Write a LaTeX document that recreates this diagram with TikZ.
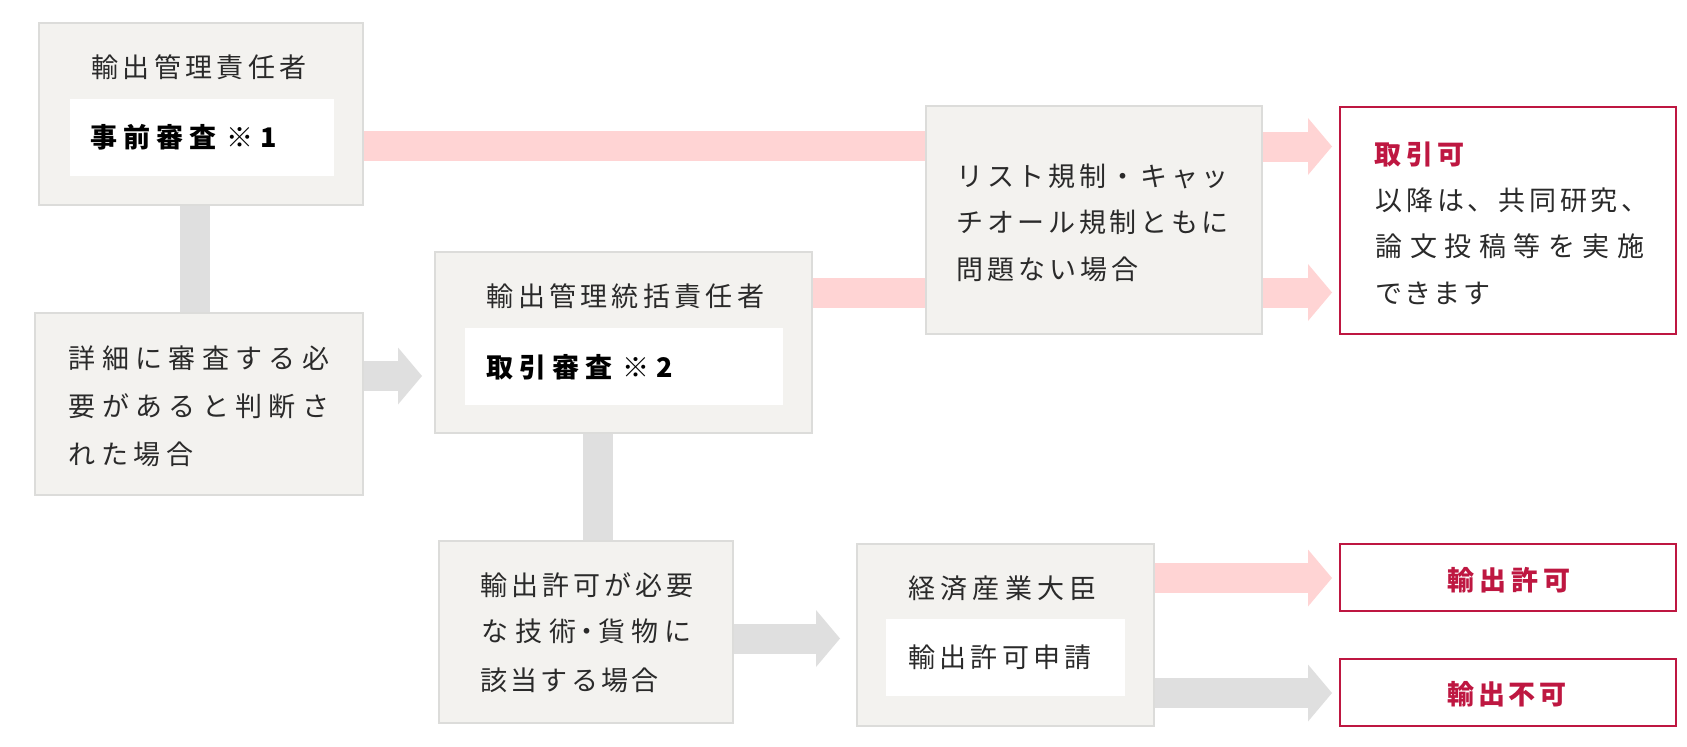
\documentclass[tikz,border=0pt]{standalone}
\usepackage{fontspec}
\setmainfont{Noto Sans CJK JP}
\usetikzlibrary{arrows.meta,backgrounds}
\definecolor{boxfill}{HTML}{F3F2EF}
\definecolor{boxline}{HTML}{DCDCDA}
\definecolor{pinkc}{HTML}{FFD4D4}
\definecolor{greyc}{HTML}{DFDFDF}
\definecolor{redc}{HTML}{BE1741}
\definecolor{txtc}{HTML}{2A2A2A}
\makeatletter
\newcommand\jspread[2]{\hbox to #1{\let\jsep\relax\@tfor\jc:=#2\do{\jsep\jc\let\jsep\hfil}}}
\makeatother
\tikzset{
  box/.style={rectangle, draw=boxline, line width=2pt, fill=boxfill, inner sep=0pt, outer sep=0pt},
  inbox/.style={rectangle, fill=white, inner sep=0pt, outer sep=0pt},
  rbox/.style={rectangle, draw=redc, line width=2pt, fill=white, inner sep=0pt, outer sep=0pt},
  txt/.style={anchor=base west, inner sep=0pt, outer sep=0pt, text=txtc, font=\fontsize{27}{30}\selectfont},
  btxt/.style={txt, text=black, font=\fontsize{27}{30}\selectfont\bfseries},
  rtxt/.style={txt, text=redc, font=\fontsize{27}{30}\selectfont\bfseries},
  pinkbar/.style={draw=pinkc, line width=30pt, line cap=butt},
  greybar/.style={draw=greyc, line width=30pt, line cap=butt},
  pinkarrow/.style={pinkbar, -{Triangle[width=57pt,length=24pt,line width=0pt,fill=pinkc]}},
  greyarrow/.style={greybar, -{Triangle[width=57pt,length=24pt,line width=0pt,fill=greyc]}},
}
\begin{document}
\begin{tikzpicture}[x=1pt,y=-1pt]
\useasboundingbox (0,0) rectangle (1687,747);

% boxes
\node[box, minimum width=324pt, minimum height=182pt] (A) at (201,114) {};
\node[inbox, minimum width=264pt, minimum height=77pt] (Ai) at (202,137.5) {};
\node[box, minimum width=328pt, minimum height=182pt] (B) at (199,404) {};
\node[box, minimum width=377pt, minimum height=181pt] (C) at (623.5,342.5) {};
\node[inbox, minimum width=318pt, minimum height=77pt] (Ci) at (624,366.5) {};
\node[box, minimum width=336pt, minimum height=228pt] (D) at (1094,220) {};
\node[rbox, minimum width=336pt, minimum height=227pt] (E) at (1508,220.5) {};
\node[box, minimum width=294pt, minimum height=182pt] (F) at (586,632) {};
\node[box, minimum width=297pt, minimum height=182pt] (G) at (1005.5,635) {};
\node[inbox, minimum width=239pt, minimum height=77pt] (Gi) at (1005.5,657.5) {};
\node[rbox, minimum width=336pt, minimum height=67pt] (H1) at (1508,577.5) {};
\node[rbox, minimum width=336pt, minimum height=67pt] (H2) at (1508,692.5) {};

% texts
\node[txt] (tA1) at (91.7,77.5) {\jspread{214.6pt}{輸出管理責任者}};
\node[btxt] (tA2) at (90.7,147) {\jspread{125.6pt}{事前審査}\kern10pt ※\kern7pt 1};
\node[txt] (tB1) at (68.7,368) {\jspread{260.6pt}{詳細に審査する必}};
\node[txt] (tB2) at (68.7,416) {\jspread{260.6pt}{要があると判断さ}};
\node[txt] (tB3) at (68.7,464) {\jspread{124.6pt}{れた場合}};
\node[txt] (tC1) at (486.7,306) {\jspread{277.6pt}{輸出管理統括責任者}};
\node[btxt] (tC2) at (486.7,377) {\jspread{125.6pt}{取引審査}\kern10pt ※\kern7pt 2};
\node[txt] (tD1) at (956.7,186) {\jspread{272pt}{リスト規制・キャッ}};
\node[txt] (tD2) at (956.7,232) {\jspread{272pt}{チオール規制ともに}};
\node[txt] (tD3) at (956.7,279) {\jspread{181.6pt}{問題ない場合}};
\node[rtxt] (tE1) at (1374.7,164) {\jspread{89.6pt}{取引可}};
\node[txt] (tE2) at (1375.7,210) {\jspread{273pt}{以降は、共同研究、}};
\node[txt] (tE3) at (1375.7,256) {\jspread{268.6pt}{論文投稿等を実施}};
\node[txt] (tE4) at (1375.7,303) {\jspread{114.3pt}{できます}};
\node[txt] (tF1) at (480.7,595) {\jspread{212.5pt}{輸出許可が必要}};
\node[txt] (tF2) at (481.7,641) {\jspread{94.6pt}{な技術}\makebox[20.4pt]{・}\kern2pt\jspread{93.3pt}{貨物に}};
\node[txt] (tF3) at (480.7,690) {\jspread{177.6pt}{該当する場合}};
\node[txt] (tG1) at (908.7,598) {\jspread{187.6pt}{経済産業大臣}};
\node[txt] (tG2) at (908.7,667) {\jspread{182.6pt}{輸出許可申請}};
\node[rtxt, anchor=base] (tH1) at (1509,590) {\jspread{122.6pt}{輸出許可}};
\node[rtxt, anchor=base] (tH2) at (1507,704) {\jspread{118.6pt}{輸出不可}};

% connector levels
\coordinate (yAD) at (0,146);
\coordinate (xAB) at (194.5,0);
\coordinate (yBC) at (0,376);
\coordinate (yCD) at (0,293);
\coordinate (xCF) at (597.5,0);
\coordinate (yFG) at (0,638.5);
\coordinate (yDE1) at (0,146.5);
\coordinate (yDE2) at (0,292.5);
\coordinate (yGH1) at (0,578);
\coordinate (yGH2) at (0,693);
\coordinate (tipBC) at (422,376);
\coordinate (tipFG) at (840,638.5);

\begin{scope}[on background layer]
\fill[white] (0,0) rectangle (1687,747);
\draw[pinkbar] (A.east |- yAD) -- (D.west |- yAD);
\draw[greybar] (A.south -| xAB) -- (B.north -| xAB);
\draw[greyarrow] (B.east |- yBC) -- (tipBC);
\draw[pinkbar] (C.east |- yCD) -- (D.west |- yCD);
\draw[greybar] (C.south -| xCF) -- (F.north -| xCF);
\draw[greyarrow] (F.east |- yFG) -- (tipFG);
\draw[pinkarrow] (D.east |- yDE1) -- ([xshift=-8pt]E.west |- yDE1);
\draw[pinkarrow] (D.east |- yDE2) -- ([xshift=-8pt]E.west |- yDE2);
\draw[pinkarrow] (G.east |- yGH1) -- ([xshift=-8pt]H1.west |- yGH1);
\draw[greyarrow] (G.east |- yGH2) -- ([xshift=-8pt]H2.west |- yGH2);
\end{scope}
\end{tikzpicture}
\end{document}
